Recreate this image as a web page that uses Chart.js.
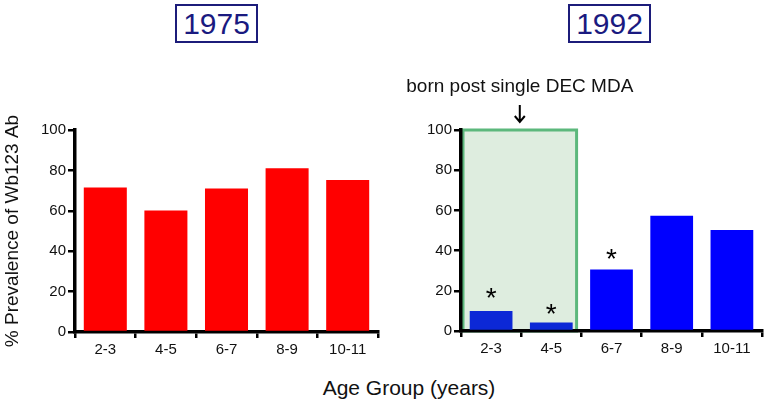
<!DOCTYPE html>
<html>
<head>
<meta charset="utf-8">
<script src="https://cdn.jsdelivr.net/npm/chart.js@4.4.1/dist/chart.umd.min.js"></script>
<style>
  body { margin: 0; width: 766px; height: 409px; background: #fff; position: relative; overflow: hidden;
         font-family: "Liberation Sans", Arial, sans-serif; }
  canvas { position: absolute; }
  .year { position: absolute; top: 4px; height: 35px; width: 79px; border: 2px solid #1c1c7a;
          color: #1a1a80; font-size: 30px; line-height: 35px; text-align: center; }
  #xtitle { position: absolute; left: 0; width: 818px; top: 376px; text-align: center; font-size: 21px; color: #111; }
</style>
</head>
<body>
<div class="year" style="left:175px">1975</div>
<div class="year" style="left:568px">1992</div>
<div id="xtitle">Age Group (years)</div>
<canvas id="left" width="390" height="300" style="left:0;top:60px"></canvas>
<canvas id="right" width="376" height="300" style="left:390px;top:60px"></canvas>
<script>
const ageGroups = ['2-3', '4-5', '6-7', '8-9', '10-11'];
const prev1975 = [71.5, 60.2, 71, 81.1, 75.2];
const prev1992 = [10, 4.2, 30.6, 57.3, 50.2];
const stars1992 = [19.8, 11.8, 39.2, null, null];
const yTicks = [0, 20, 40, 60, 80, 100];
const boxFrom = -0.5, boxTo = 1.42, boxTop = 100;
const noteText = 'born post single DEC MDA';

const FONT = '"Liberation Sans", Arial, sans-serif';

function axes(yWidth, xHeight, withTitle) {
    return {
        x: {
            grid: { display: true, drawOnChartArea: false, drawTicks: true, tickLength: 6, color: '#000', lineWidth: 2.5 },
            border: { display: true, width: 3.5, color: '#000' },
            ticks: { color: '#111', font: { family: FONT, size: 15 }, padding: 3 },
            afterFit: (s) => { s.height = xHeight; },
        },
        y: {
            min: 0,
            max: 100,
            afterBuildTicks: (s) => { s.ticks = yTicks.map((v) => ({ value: v })); },
            grid: { display: true, drawOnChartArea: false, drawTicks: true, tickLength: 7, color: '#000', lineWidth: 2.5 },
            border: { display: true, width: 3.5, color: '#000' },
            ticks: { color: '#111', font: { family: FONT, size: 15 }, padding: 2 },
            title: {
                display: withTitle,
                text: '% Prevalence of Wb123 Ab',
                color: '#111',
                font: { family: FONT, size: 19 },
                padding: { top: 1, bottom: 0 },
            },
            afterFit: (s) => { s.width = yWidth; },
        },
    };
}

const boxPlugin = {
    id: 'boxPlugin',
    beforeDraw(chart) {
        const { ctx, scales: { x, y } } = chart;
        const l = x.getPixelForValue(boxFrom) + 2;
        const r = x.getPixelForValue(boxTo);
        const t = y.getPixelForValue(boxTop);
        const b = y.getPixelForValue(0);
        ctx.save();
        ctx.fillStyle = '#deeddf';
        ctx.fillRect(l, t, r - l, b - t);
        ctx.strokeStyle = '#5cb87c';
        ctx.lineWidth = 3;
        ctx.strokeRect(l, t, r - l, b - t);
        // note + arrow
        const cx = (l + r) / 2;
        ctx.fillStyle = '#111';
        ctx.font = '19px ' + FONT;
        ctx.textAlign = 'center';
        ctx.textBaseline = 'alphabetic';
        ctx.fillText(noteText, cx, t - 38);
        ctx.strokeStyle = '#000';
        ctx.lineWidth = 2;
        ctx.beginPath();
        ctx.moveTo(cx, t - 25);
        ctx.lineTo(cx, t - 8);
        ctx.moveTo(cx - 5, t - 14);
        ctx.lineTo(cx, t - 8);
        ctx.lineTo(cx + 5, t - 14);
        ctx.stroke();
        ctx.restore();
    },
    afterDatasetsDraw(chart) {
        const { ctx, scales: { x, y } } = chart;
        ctx.save();
        ctx.fillStyle = '#000';
        ctx.font = '28px ' + FONT;
        ctx.textAlign = 'center';
        ctx.textBaseline = 'alphabetic';
        stars1992.forEach((v, i) => {
            if (v === null) return;
            ctx.fillText('*', x.getPixelForValue(i), y.getPixelForValue(v) + 16);
        });
        ctx.restore();
    },
};

function makeChart(id, values, colors, yWidth, xHeight, padRight, withTitle, plugins) {
    return new Chart(document.getElementById(id), {
        type: 'bar',
        data: {
            labels: ageGroups,
            datasets: [{
                data: values,
                backgroundColor: colors,
                borderWidth: 0,
                barPercentage: 0.71,
                categoryPercentage: 1,
            }],
        },
        options: {
            responsive: false,
            animation: false,
            layout: { padding: { top: 70, right: padRight, left: 0, bottom: 0 } },
            plugins: { legend: { display: false }, tooltip: { enabled: false } },
            scales: axes(yWidth, xHeight, withTitle),
        },
        plugins: plugins,
    });
}

makeChart('left', prev1975, '#ff0000', 75, 28, 12, true, []);
makeChart('right', prev1992, ['#0c28d6', '#0c28d6', '#0000ff', '#0000ff', '#0000ff'], 71, 29, 4, false, [boxPlugin]);
</script>
</body>
</html>
